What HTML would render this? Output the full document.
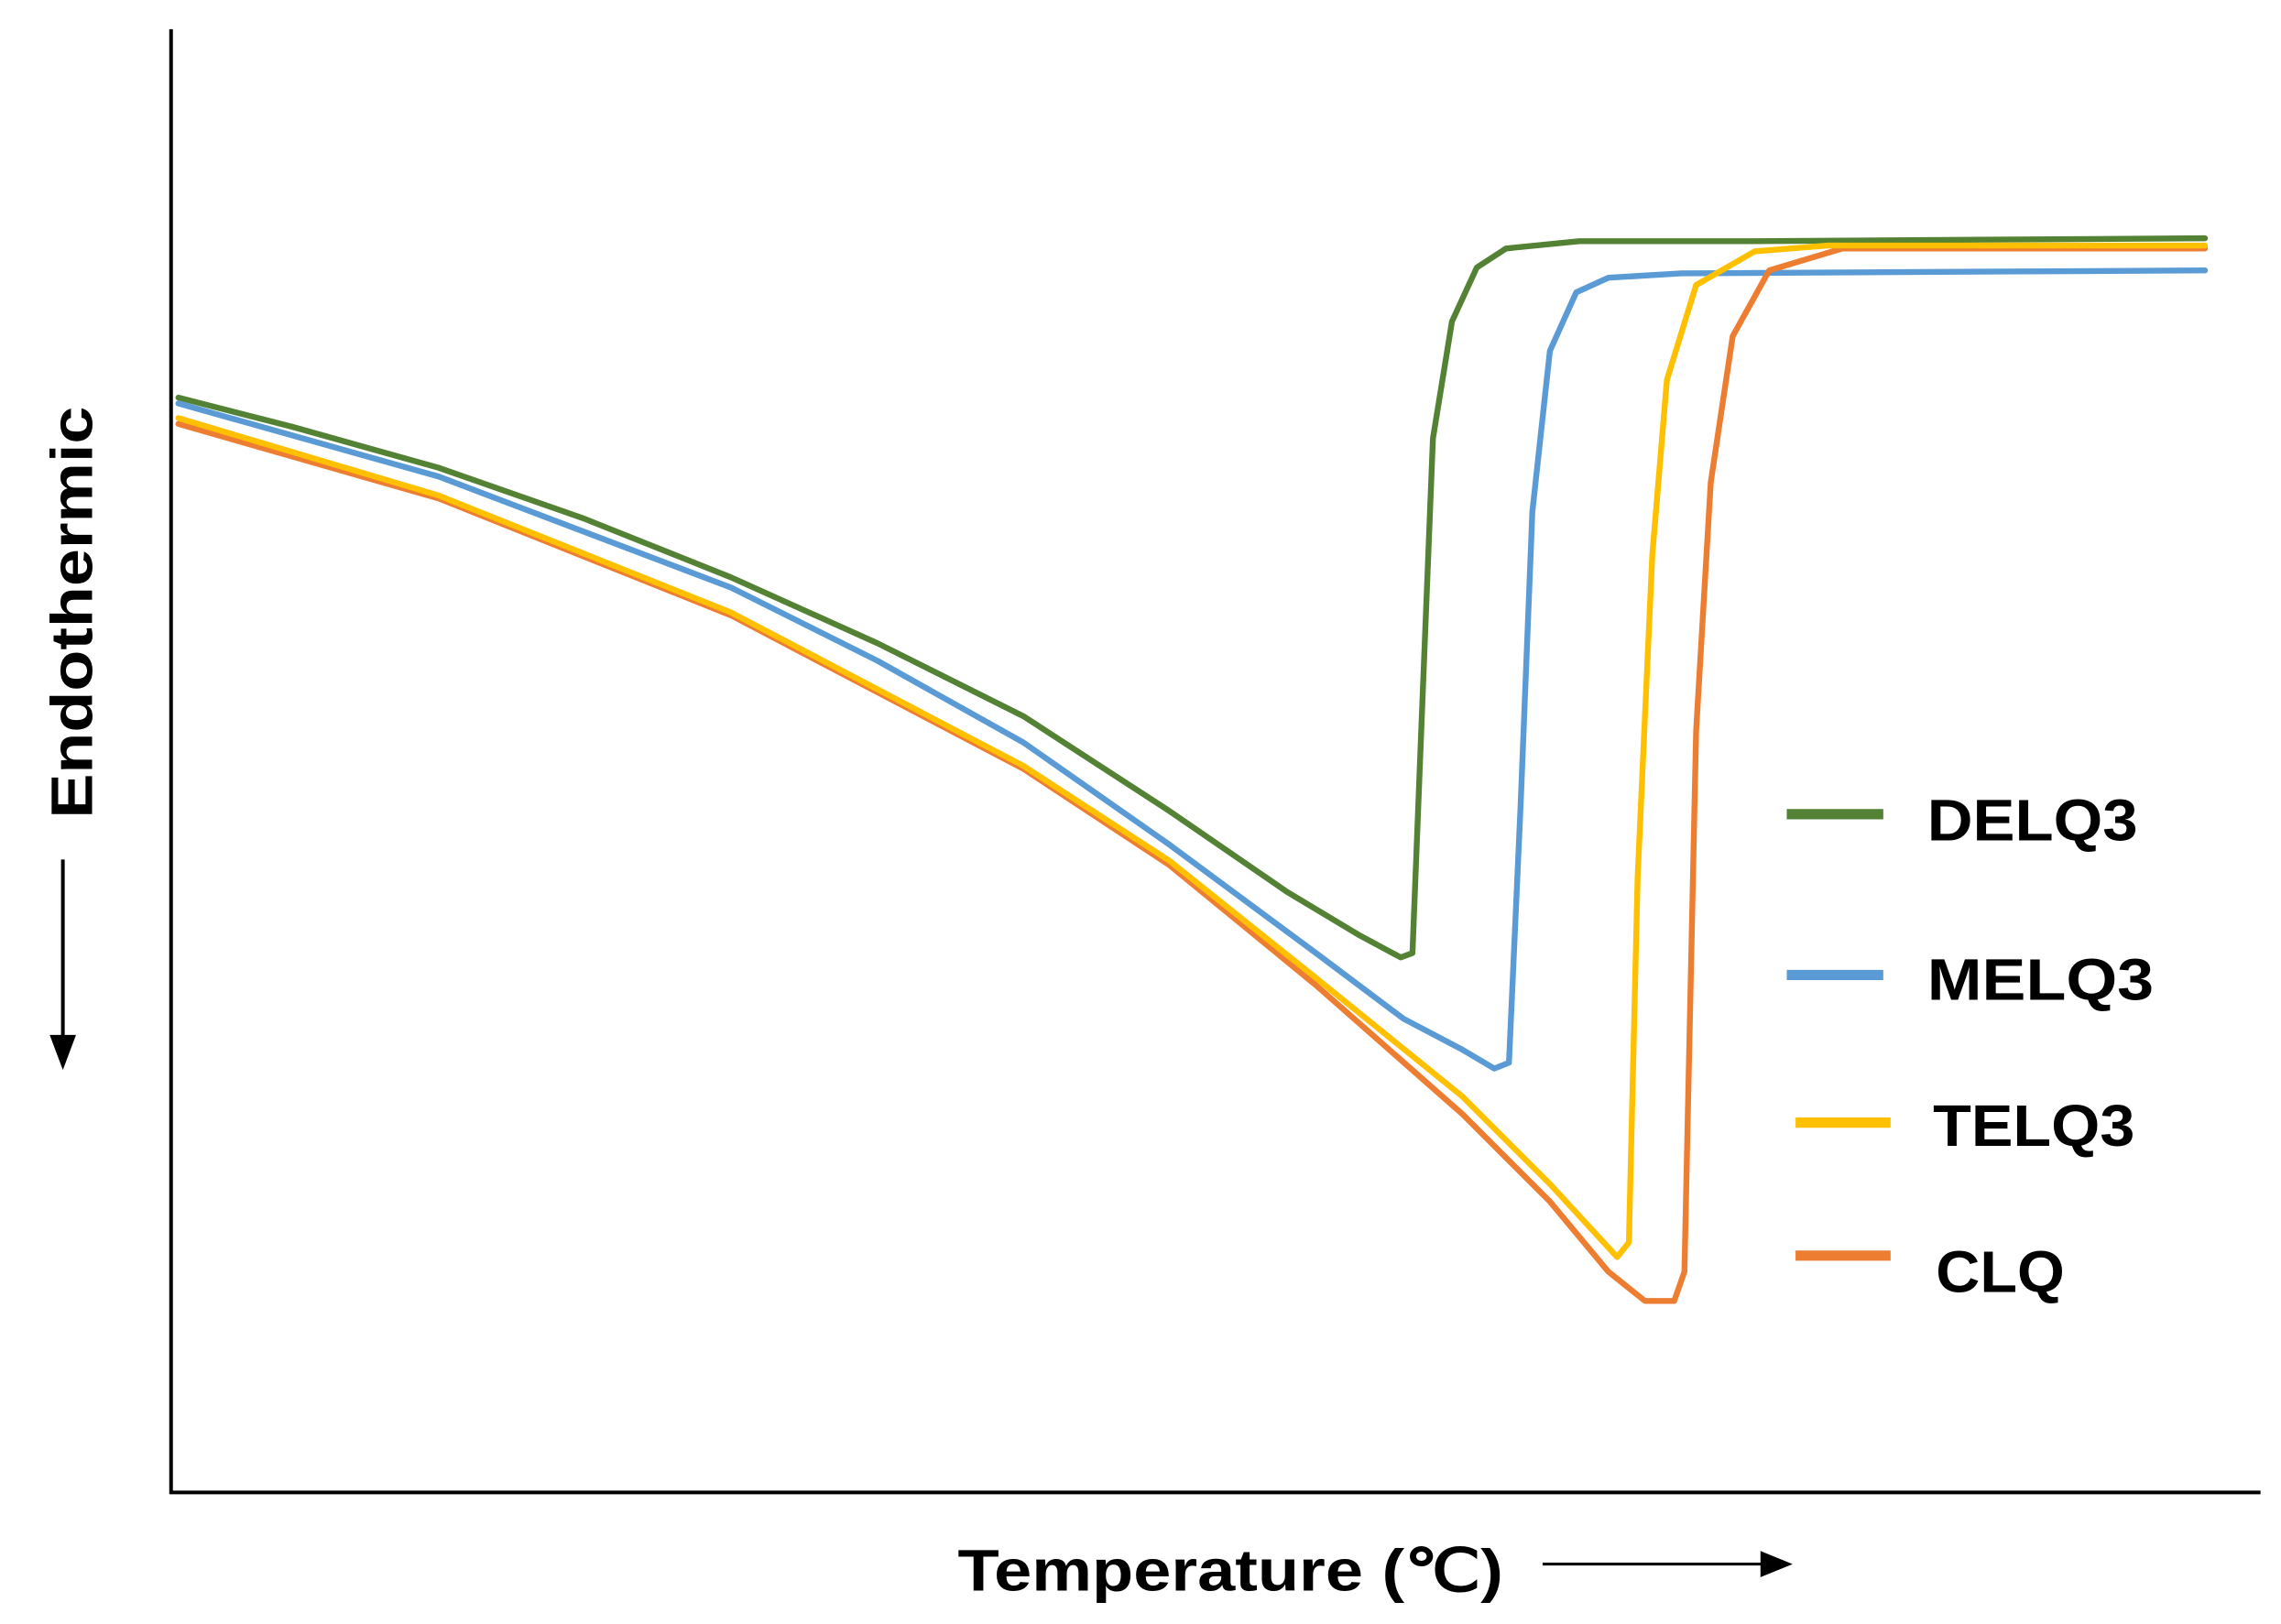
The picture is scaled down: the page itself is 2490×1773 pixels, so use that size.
<!DOCTYPE html>
<html><head><meta charset="utf-8"><style>html,body{margin:0;padding:0;background:#fff}svg{display:block}</style></head>
<body>
<svg width="2490" height="1773" viewBox="0 0 1560 1111" preserveAspectRatio="none" xmlns="http://www.w3.org/2000/svg">
<rect width="1560" height="1111" fill="#fff"/>
<g stroke="#000" stroke-width="2.5" fill="none">
<line x1="117" y1="20" x2="117" y2="1022"/>
<line x1="116" y1="1021" x2="1546" y2="1021"/>
</g>
<g fill="none" stroke-width="4" stroke-linejoin="round" stroke-linecap="round">
<polyline stroke="#548235" points="122,272 200,292 300,320 400,355 500,395 600,440 700,490 800,555 880,610 930,640 958,655 966,652 972,500 980,300 993,220 1010,183 1030,170 1080,165 1200,165 1508,163"/>
<polyline stroke="#5B9BD5" points="122,276 300,326 500,402 600,452 700,508 800,578 900,652 960,697 1000,718 1022,731 1032,727 1040,550 1048,350 1060,240 1078,200 1100,190 1150,187 1508,185"/>
<polyline stroke="#ED7D31" points="122,290 300,341 500,421 700,526 800,592 900,674 1000,762 1060,822 1100,870 1125,890 1145,890 1152,870 1160,500 1170,330 1185,230 1210,185 1260,170 1508,170"/>
<polyline stroke="#FFC000" points="122,286 300,339 500,419 700,524 800,589 900,669 1000,750 1060,810 1106,860 1114,850 1120,600 1130,380 1140,260 1160,195 1200,172 1250,168 1508,168"/>
</g>
<g stroke-width="7">
<line x1="1222" y1="557" x2="1288" y2="557" stroke="#548235"/>
<line x1="1222" y1="667" x2="1288" y2="667" stroke="#5B9BD5"/>
<line x1="1228" y1="768" x2="1293" y2="768" stroke="#FFC000"/>
<line x1="1228" y1="859" x2="1293" y2="859" stroke="#ED7D31"/>
</g>
<g font-family="Liberation Sans, sans-serif" font-weight="bold" font-size="40" fill="#000">
<text x="1318" y="575" textLength="144" lengthAdjust="spacingAndGlyphs">DELQ3</text>
<text x="1318" y="684" textLength="155" lengthAdjust="spacingAndGlyphs">MELQ3</text>
<text x="1322" y="784" textLength="138" lengthAdjust="spacingAndGlyphs">TELQ3</text>
<text x="1324" y="884" textLength="88" lengthAdjust="spacingAndGlyphs">CLQ</text>
<text x="655" y="1088" textLength="373" lengthAdjust="spacingAndGlyphs">Temperature (℃)</text>
<text transform="translate(63,560) rotate(-90)" textLength="282" lengthAdjust="spacingAndGlyphs">Endothermic</text>
</g>
<line x1="1055" y1="1070" x2="1208" y2="1070" stroke="#000" stroke-width="2"/>
<polygon points="1226,1070 1204,1061 1204,1079" fill="#000"/>
<line x1="43" y1="588" x2="43" y2="712" stroke="#000" stroke-width="2.5"/>
<polygon points="43,732 34,708 52,708" fill="#000"/>
</svg>
</body></html>
